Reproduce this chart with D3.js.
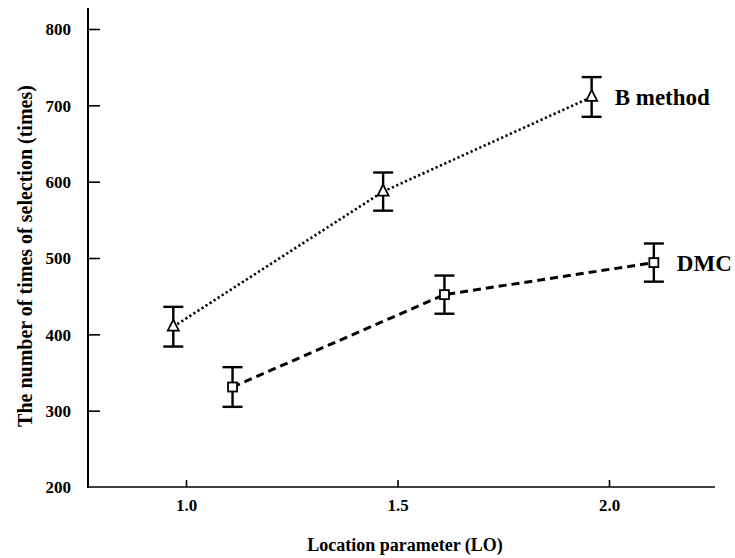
<!DOCTYPE html>
<html>
<head>
<meta charset="utf-8">
<script src="https://cdn.jsdelivr.net/npm/d3@7"></script>
<style>
  html, body { margin: 0; padding: 0; background: #fff; }
  svg { display: block; }
  text { font-family: "Liberation Serif", "Times New Roman", serif; fill: #000; }
</style>
</head>
<body>
<svg id="chart" width="735" height="558"></svg>
<script>
// Location parameter (LO) for each run, per method
const bLocation = [0.97, 1.466, 1.959];
const dmcLocation = [1.11, 1.611, 2.106];

// Mean number of times of selection
const bValues = [410, 587, 711];
const dmcValues = [331, 452, 494];

// Half-width of the error bars
const bErrors = [26, 25, 26];
const dmcErrors = [26, 25, 25];

const xTicks = [1.0, 1.5, 2.0];
const yTicks = [200, 300, 400, 500, 600, 700, 800];

const seriesNames = ["B method", "DMC"];

const svg = d3.select("#chart");

// 1.0 -> 186px, 2.0 -> 609px ; 200 -> 487px, 800 -> 29px
const x = d3.scaleLinear().domain([1.0, 2.0]).range([186, 609]);
const y = d3.scaleLinear().domain([200, 800]).range([487, 29]);

const xAxisLeft = 88, xAxisRight = 715;
const yAxisTop = 8;

// Axis lines
svg.append("line")
  .attr("x1", xAxisLeft).attr("x2", xAxisLeft)
  .attr("y1", yAxisTop).attr("y2", y(200) + 1)
  .attr("stroke", "#000").attr("stroke-width", 2);
svg.append("line")
  .attr("x1", xAxisLeft - 1).attr("x2", xAxisRight)
  .attr("y1", y(200)).attr("y2", y(200))
  .attr("stroke", "#000").attr("stroke-width", 1.6);

// Y axis: ticks point inward
const yAxis = d3.axisRight(y).tickValues(yTicks).tickSize(12).tickFormat(d3.format("d"));
const gy = svg.append("g").attr("transform", `translate(${xAxisLeft},0)`).call(yAxis);
gy.select(".domain").remove();
gy.selectAll(".tick line").attr("stroke", "#000").attr("stroke-width", 1.6);
gy.selectAll(".tick").filter(d => d === 200).select("line").remove();
gy.selectAll(".tick text")
  .attr("x", -17).attr("text-anchor", "end").attr("dy", "0.35em")
  .style("font-size", "17px").style("font-weight", "bold")
  .style("font-family", "'Liberation Serif', serif");

// X axis: ticks point up
const xAxis = d3.axisTop(x).tickValues(xTicks).tickSize(7).tickFormat(d3.format(".1f"));
const gx = svg.append("g").attr("transform", `translate(0,${y(200)})`).call(xAxis);
gx.select(".domain").remove();
gx.selectAll(".tick line").attr("stroke", "#000").attr("stroke-width", 1.6);
gx.selectAll(".tick text")
  .attr("y", 18).attr("dy", "0.35em")
  .style("font-size", "17px").style("font-weight", "bold")
  .style("font-family", "'Liberation Serif', serif");

// Axis titles
svg.append("text")
  .attr("x", 405).attr("y", 551)
  .attr("text-anchor", "middle")
  .style("font-size", "18px").style("font-weight", "bold")
  .text("Location parameter (LO)");
svg.append("text")
  .attr("transform", "translate(32,256) rotate(-90)")
  .attr("text-anchor", "middle")
  .style("font-size", "20px").style("font-weight", "bold")
  .text("The number of times of selection (times)");

function drawSeries(xs, vals, errs, dash, width, marker) {
  const pts = xs.map((v, i) => ({ x: v, y: vals[i], e: errs[i] }));
  const line = d3.line().x(d => x(d.x)).y(d => y(d.y));
  svg.append("path")
    .datum(pts)
    .attr("d", line)
    .attr("fill", "none")
    .attr("stroke", "#000")
    .attr("stroke-width", width)
    .attr("stroke-dasharray", dash);

  const g = svg.append("g").selectAll("g").data(pts).join("g");
  // error bars
  g.append("line")
    .attr("x1", d => x(d.x)).attr("x2", d => x(d.x))
    .attr("y1", d => y(d.y + d.e)).attr("y2", d => y(d.y - d.e))
    .attr("stroke", "#000").attr("stroke-width", 2.4);
  g.append("line")
    .attr("x1", d => x(d.x) - 10).attr("x2", d => x(d.x) + 10)
    .attr("y1", d => y(d.y + d.e)).attr("y2", d => y(d.y + d.e))
    .attr("stroke", "#000").attr("stroke-width", 2.4);
  g.append("line")
    .attr("x1", d => x(d.x) - 10).attr("x2", d => x(d.x) + 10)
    .attr("y1", d => y(d.y - d.e)).attr("y2", d => y(d.y - d.e))
    .attr("stroke", "#000").attr("stroke-width", 2.4);
  // markers
  if (marker === "triangle") {
    g.append("path")
      .attr("d", d => {
        const cx = x(d.x), cy = y(d.y);
        return `M${cx},${cy - 7}L${cx + 5.5},${cy + 4}L${cx - 5.5},${cy + 4}Z`;
      })
      .attr("fill", "#fff").attr("stroke", "#000").attr("stroke-width", 1.8);
  } else {
    g.append("rect")
      .attr("x", d => x(d.x) - 4.5).attr("y", d => y(d.y) - 4.5)
      .attr("width", 9).attr("height", 9)
      .attr("fill", "#fff").attr("stroke", "#000").attr("stroke-width", 1.8);
  }
}

drawSeries(bLocation, bValues, bErrors, "2.2,2.6", 2.6, "triangle");
drawSeries(dmcLocation, dmcValues, dmcErrors, "8,5", 3, "square");

// Series labels beside the last point
svg.append("text")
  .attr("x", x(bLocation[2]) + 23).attr("y", y(bValues[2]))
  .attr("dy", "0.35em")
  .style("font-size", "23px").style("font-weight", "bold")
  .text(seriesNames[0]);
svg.append("text")
  .attr("x", x(dmcLocation[2]) + 23).attr("y", y(dmcValues[2]))
  .attr("dy", "0.35em")
  .style("font-size", "23px").style("font-weight", "bold")
  .text(seriesNames[1]);
</script>
</body>
</html>
